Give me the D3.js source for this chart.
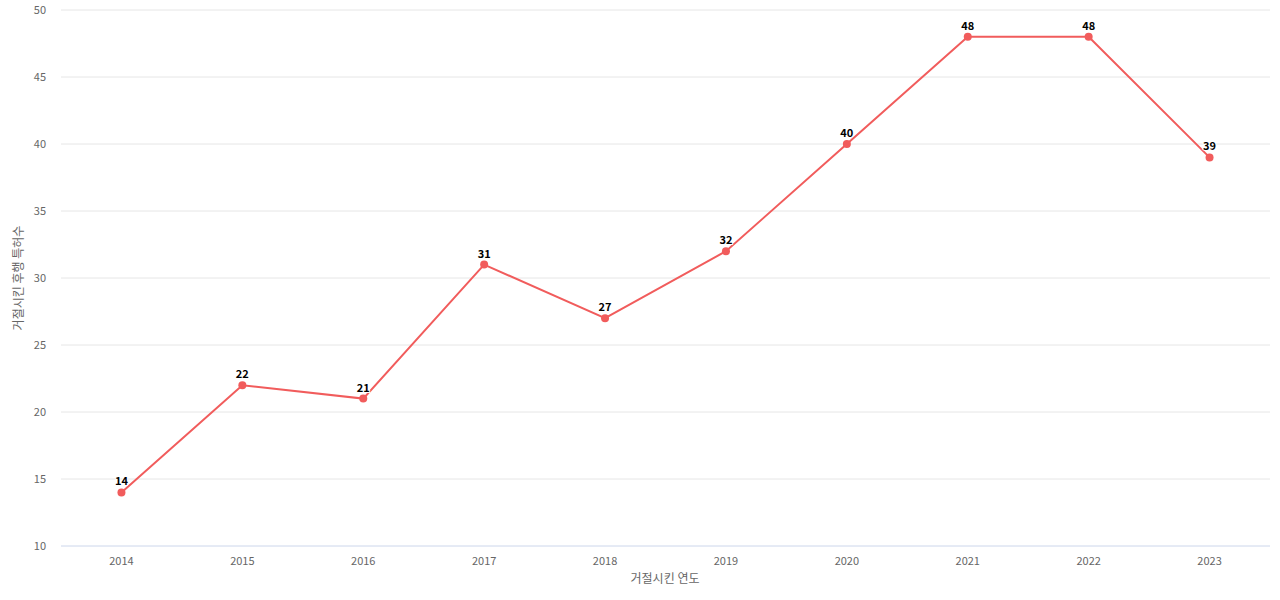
<!DOCTYPE html>
<html><head><meta charset="utf-8">
<script src="https://cdn.jsdelivr.net/npm/d3@7"></script>
<style>body{margin:0;background:#fff;font-family:"Noto Sans CJK KR","Noto Sans",sans-serif;}</style>
</head><body><div id="chart"></div>
<script>
var years = ["2014","2015","2016","2017","2018","2019","2020","2021","2022","2023"];
var counts = [14, 22, 21, 31, 27, 32, 40, 48, 48, 39];
var yTicks = [10, 15, 20, 25, 30, 35, 40, 45, 50];

var svg = d3.select("#chart").append("svg").attr("width", 1280).attr("height", 600);

var x = d3.scalePoint().domain(years).range([61, 1270]).padding(0.5);
var y = d3.scaleLinear().domain([10, 50]).range([546, 10]);

//gridlines
svg.selectAll(".grid").data(yTicks).enter().append("line")
    .attr("x1", 61).attr("x2", 1270)
    .attr("y1", d => y(d)).attr("y2", d => y(d))
    .attr("stroke", d => d === 10 ? "#ccd6eb" : "#e6e6e6");

//y tick labels
svg.selectAll(".yt").data(yTicks).enter().append("text")
    .attr("x", 46).attr("y", d => y(d) + 4)
    .attr("text-anchor", "end").attr("font-size", 11).attr("fill", "#666")
    .text(d => d);

//x tick labels
svg.selectAll(".xt").data(years).enter().append("text")
    .attr("x", d => x(d)).attr("y", 565)
    .attr("text-anchor", "middle").attr("font-size", 11).attr("fill", "#666")
    .text(d => d);

svg.append("text").attr("x", 665).attr("y", 583).attr("text-anchor", "middle")
    .attr("font-size", 12).attr("fill", "#666").text("거절시킨 연도");
svg.append("text").attr("transform", "translate(23,278) rotate(-90)")
    .attr("text-anchor", "middle").attr("font-size", 12).attr("fill", "#666")
    .text("거절시킨 후행 특허수");

var line = d3.line().x((d, i) => x(years[i])).y(d => y(d));
svg.append("path").datum(counts).attr("d", line)
    .attr("fill", "none").attr("stroke", "#f15c5c").attr("stroke-width", 2);

svg.selectAll(".pt").data(counts).enter().append("circle")
    .attr("cx", (d, i) => x(years[i])).attr("cy", d => y(d)).attr("r", 4)
    .attr("fill", "#f15c5c");

svg.selectAll(".lbl").data(counts).enter().append("text")
    .attr("x", (d, i) => x(years[i])).attr("y", d => y(d) - 7)
    .attr("text-anchor", "middle").attr("font-size", 11).attr("font-weight", "bold")
    .attr("fill", "#000").attr("stroke", "#fff").attr("stroke-width", 2).attr("paint-order", "stroke")
    .text(d => d);
</script></body></html>
